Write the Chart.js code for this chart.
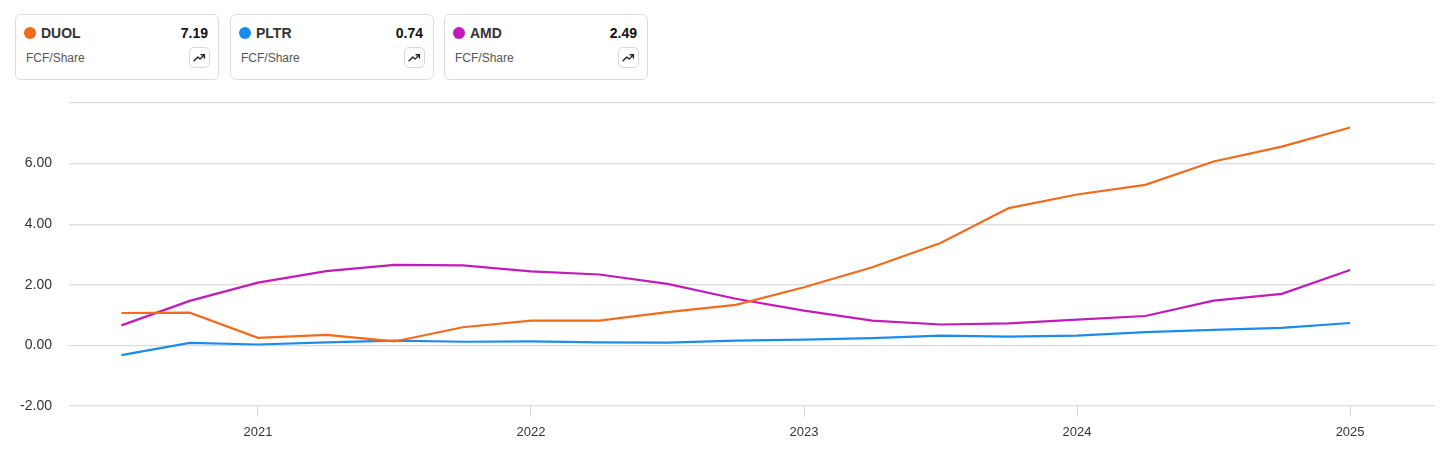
<!DOCTYPE html>
<html>
<head>
<meta charset="utf-8">
<script src="https://cdn.jsdelivr.net/npm/chart.js@4.4.1/dist/chart.umd.min.js"></script>
<style>
  html, body { margin: 0; padding: 0; background: #fff; }
  body { width: 1456px; height: 456px; position: relative; overflow: hidden; font-family: "Liberation Sans", Arial, sans-serif; }
  #wrap { position: absolute; left: 0; top: 0; width: 1456px; height: 456px; }
  .card { position: absolute; top: 14px; width: 204px; height: 66px; border: 1px solid #dcdcdc; border-radius: 6px; background: #fff; box-sizing: border-box; z-index: 2; }
  .dot { position: absolute; left: 8px; top: 12px; width: 12px; height: 12px; border-radius: 50%; }
  .tick { position: absolute; left: 25px; top: 9px; font-size: 14px; font-weight: bold; color: #333; line-height: 18px; }
  .val { position: absolute; right: 10px; top: 9px; font-size: 14px; font-weight: bold; color: #111; line-height: 18px; }
  .sub { position: absolute; left: 10px; top: 35px; font-size: 12px; color: #555; line-height: 16px; }
  .btn { position: absolute; right: 8px; top: 32px; width: 21px; height: 21px; border: 1px solid #d8d8d8; border-radius: 5px; box-sizing: border-box; display: flex; align-items: center; justify-content: center; }
</style>
</head>
<body>
<div id="cards"></div>
<div id="wrap"><canvas id="c" width="1456" height="456"></canvas></div>
<script>
const tickers = ['DUOL', 'PLTR', 'AMD'];
const latestValues = ['7.19', '0.74', '2.49'];
const metricLabel = 'FCF/Share';
const colors = ['#F26A1B', '#1B8CEE', '#C21BBA'];

const quarters = ['Q2 2020','Q3 2020','Q4 2020','Q1 2021','Q2 2021','Q3 2021','Q4 2021','Q1 2022','Q2 2022','Q3 2022','Q4 2022','Q1 2023','Q2 2023','Q3 2023','Q4 2023','Q1 2024','Q2 2024','Q3 2024','Q4 2024'];

const duol = [1.07, 1.08, 0.25, 0.35, 0.13, 0.60, 0.82, 0.82, 1.10, 1.34, 1.92, 2.58, 3.38, 4.53, 4.98, 5.30, 6.07, 6.56, 7.19];
const pltr = [-0.32, 0.08, 0.03, 0.10, 0.16, 0.12, 0.13, 0.10, 0.09, 0.16, 0.19, 0.24, 0.32, 0.29, 0.32, 0.44, 0.51, 0.58, 0.74];
const amd  = [0.66, 1.47, 2.07, 2.45, 2.66, 2.64, 2.44, 2.34, 2.03, 1.54, 1.15, 0.82, 0.69, 0.73, 0.85, 0.97, 1.48, 1.70, 2.49];

const yearTicks = [2021, 2022, 2023, 2024, 2025];
const yTicks = [-2, 0, 2, 4, 6, 8];

const series = [duol, pltr, amd];

// cards
const cardsEl = document.getElementById('cards');
const cardLefts = [15, 230, 444];
const arrowSvg = '<svg width="13" height="13" viewBox="0 0 24 24" fill="none" stroke="#222" stroke-width="2.6" stroke-linecap="round" stroke-linejoin="round"><polyline points="2 18 9 11 13 15 21 7"/><polyline points="15 7 21 7 21 13"/></svg>';
tickers.forEach((t, i) => {
  const d = document.createElement('div');
  d.className = 'card';
  d.style.left = cardLefts[i] + 'px';
  d.innerHTML = '<div class="dot" style="background:' + colors[i] + '"></div>' +
    '<div class="tick">' + t + '</div>' +
    '<div class="val">' + latestValues[i] + '</div>' +
    '<div class="sub">' + metricLabel + '</div>' +
    '<div class="btn">' + arrowSvg + '</div>';
  cardsEl.appendChild(d);
});

function qToX(q) {
  const parts = q.split(' ');
  const qn = parseInt(parts[0].slice(1), 10);
  return parseInt(parts[1], 10) + qn / 4;
}

const datasets = series.map((s, i) => ({
  label: tickers[i],
  data: s.map((v, j) => ({ x: qToX(quarters[j]), y: v })),
  borderColor: colors[i],
  backgroundColor: colors[i],
  borderWidth: 2.2,
  pointRadius: 0,
  tension: 0,
  fill: false
}));

new Chart(document.getElementById('c'), {
  type: 'line',
  data: { datasets },
  options: {
    responsive: false,
    animation: false,
    devicePixelRatio: 1,
    layout: { padding: { left: 0, top: 103, right: 21, bottom: 0 } },
    plugins: { legend: { display: false }, tooltip: { enabled: false } },
    scales: {
      x: {
        type: 'linear',
        min: 2020.308,
        max: 2025.311,
        afterBuildTicks: (scale) => { scale.ticks = yearTicks.map(v => ({ value: v })); },
        afterFit: (scale) => { scale.height = 50; },
        grid: { drawOnChartArea: false, drawTicks: true, tickLength: 11, color: '#d6d6d6', lineWidth: 1 },
        border: { display: false },
        ticks: { padding: 8, color: '#333', font: { family: 'Liberation Sans', size: 13 }, callback: (v) => String(v), maxRotation: 0 }
      },
      y: {
        type: 'linear',
        min: -2,
        max: 8,
        afterBuildTicks: (scale) => { scale.ticks = yTicks.map(v => ({ value: v })); },
        afterFit: (scale) => { scale.width = 69; },
        grid: { drawTicks: false, color: '#dcdcdc', lineWidth: 1.3 },
        border: { display: false },
        ticks: { padding: 17, color: '#333', font: { family: 'Liberation Sans', size: 14 }, callback: (v) => v === 8 ? '' : v.toFixed(2) }
      }
    }
  }
});
</script>
</body>
</html>
